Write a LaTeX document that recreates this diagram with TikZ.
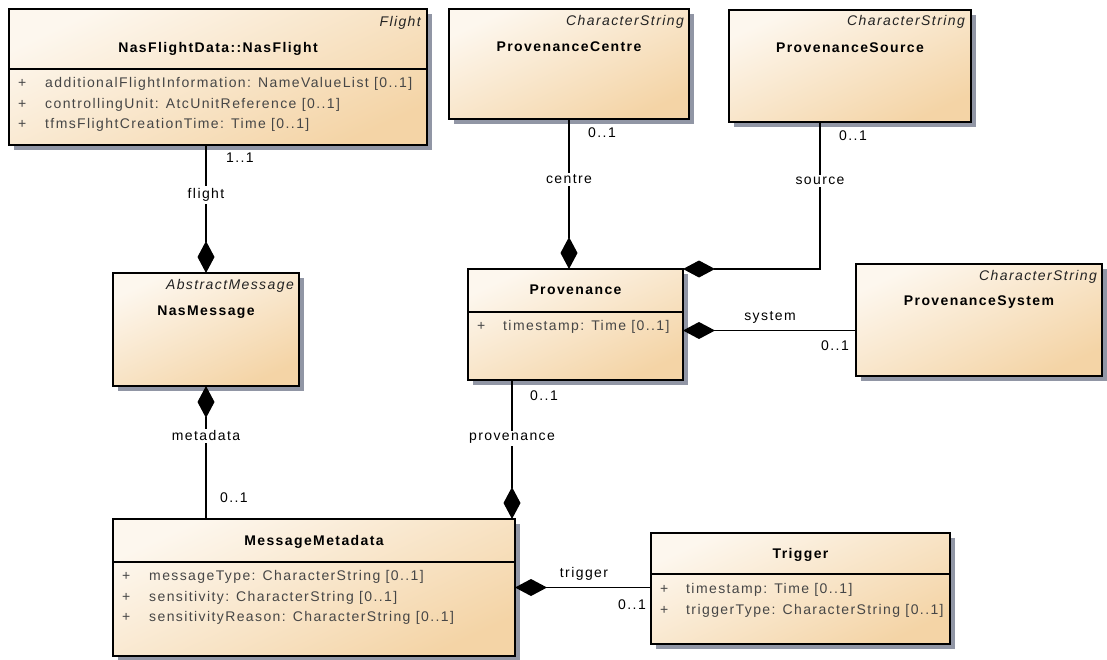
\documentclass[tikz,border=0pt]{standalone}
\usepackage{fontspec}
\setmainfont{Liberation Sans}[LetterSpace=10]
\usetikzlibrary{shadows,arrows.meta,calc}
\definecolor{umlLight}{RGB}{253,247,238}
\definecolor{umlDark}{RGB}{244,212,166}
\definecolor{shadowgray}{RGB}{145,150,165}
\definecolor{attrgray}{RGB}{70,70,70}
\definecolor{stereogray}{RGB}{35,35,35}
\begin{document}
\begin{tikzpicture}[x=1pt,y=-1pt,
  every node/.style={font=\fontsize{14}{16}\selectfont},
  classbox/.style={draw=black, line width=1.4pt, top color=umlLight, bottom color=umlDark,
    shading angle=25, drop shadow={shadow xshift=5pt, shadow yshift=-5pt, fill=shadowgray, opacity=1},
    inner sep=0pt, outer sep=0pt, anchor=north west},
  divider/.style={draw=black, line width=1.2pt},
  stereo/.style={font=\fontsize{14}{16}\selectfont\itshape, text=stereogray, inner sep=0pt, anchor=mid east},
  cname/.style={font=\fontsize{14}{16}\selectfont\bfseries, text=black, inner sep=0pt, anchor=mid},
  attr/.style={text=attrgray, inner sep=0pt, anchor=mid west},
  lbl/.style={text=black, inner sep=0pt, anchor=mid},
  lblw/.style={text=black, fill=white, inner sep=2pt, anchor=mid},
  comp/.style={draw=black, line width=1.3pt, -{Diamond[length=32pt,width=17pt,fill=black]}}
]
\useasboundingbox (0,0) rectangle (1107,660);

% ---------- classes ----------
\node[classbox, minimum width=418pt, minimum height=136pt] (nasflight) at (9,9) {};
\draw[divider] ($(nasflight.north west)+(0,60)$) -- ($(nasflight.north east)+(0,60)$);
\node[stereo] (nasflight-st) at ($(nasflight.north east)+(-6,15)$) {Flight};
\node[cname] (nasflight-n) at ($(nasflight.north)+(0,41)$) {NasFlightData::NasFlight};
\node[attr] (nasflight-p1) at ($(nasflight.north west)+(9,76)$) {+};
\node[attr] (nasflight-a1) at ($(nasflight.north west)+(36,76)$) {additionalFlightInformation: NameValueList [0..1]};
\node[attr] (nasflight-p2) at ($(nasflight.north west)+(9,97)$) {+};
\node[attr] (nasflight-a2) at ($(nasflight.north west)+(36,97)$) {controllingUnit: AtcUnitReference [0..1]};
\node[attr] (nasflight-p3) at ($(nasflight.north west)+(9,117)$) {+};
\node[attr] (nasflight-a3) at ($(nasflight.north west)+(36,117)$) {tfmsFlightCreationTime: Time [0..1]};

\node[classbox, minimum width=240pt, minimum height=110pt] (pcentre) at (449,9) {};
\node[stereo] (pcentre-st) at ($(pcentre.north east)+(-5,14)$) {CharacterString};
\node[cname] (pcentre-n) at ($(pcentre.north)+(0,40)$) {ProvenanceCentre};

\node[classbox, minimum width=242pt, minimum height=112pt] (psource) at (729,10) {};
\node[stereo] (psource-st) at ($(psource.north east)+(-6,13)$) {CharacterString};
\node[cname] (psource-n) at ($(psource.north)+(0,40)$) {ProvenanceSource};

\node[classbox, minimum width=186pt, minimum height=113pt] (nasmsg) at (113,273) {};
\node[stereo] (nasmsg-st) at ($(nasmsg.north east)+(-5,14)$) {AbstractMessage};
\node[cname] (nasmsg-n) at ($(nasmsg.north)+(0,40)$) {NasMessage};

\node[classbox, minimum width=215pt, minimum height=111pt] (prov) at (468,269) {};
\draw[divider] ($(prov.north west)+(0,43)$) -- ($(prov.north east)+(0,43)$);
\node[cname] (prov-n) at ($(prov.north)+(0,23)$) {Provenance};
\node[attr] (prov-p1) at ($(prov.north west)+(9,59)$) {+};
\node[attr] (prov-a1) at ($(prov.north west)+(35,59)$) {timestamp: Time [0..1]};

\node[classbox, minimum width=246pt, minimum height=112pt] (psys) at (856,264) {};
\node[stereo] (psys-st) at ($(psys.north east)+(-5,14)$) {CharacterString};
\node[cname] (psys-n) at ($(psys.north)+(0,39)$) {ProvenanceSystem};

\node[classbox, minimum width=402pt, minimum height=137pt] (meta) at (113,519) {};
\draw[divider] ($(meta.north west)+(0,43)$) -- ($(meta.north east)+(0,43)$);
\node[cname] (meta-n) at ($(meta.north)+(0,24)$) {MessageMetadata};
\node[attr] (meta-p1) at ($(meta.north west)+(9,59)$) {+};
\node[attr] (meta-a1) at ($(meta.north west)+(36,59)$) {messageType: CharacterString [0..1]};
\node[attr] (meta-p2) at ($(meta.north west)+(9,80)$) {+};
\node[attr] (meta-a2) at ($(meta.north west)+(36,80)$) {sensitivity: CharacterString [0..1]};
\node[attr] (meta-p3) at ($(meta.north west)+(9,100)$) {+};
\node[attr] (meta-a3) at ($(meta.north west)+(36,100)$) {sensitivityReason: CharacterString [0..1]};

\node[classbox, minimum width=299pt, minimum height=111pt] (trigger) at (651,533) {};
\draw[divider] ($(trigger.north west)+(0,41)$) -- ($(trigger.north east)+(0,41)$);
\node[cname] (trigger-n) at ($(trigger.north)+(0,23)$) {Trigger};
\node[attr] (trigger-p1) at ($(trigger.north west)+(9,58)$) {+};
\node[attr] (trigger-a1) at ($(trigger.north west)+(35,58)$) {timestamp: Time [0..1]};
\node[attr] (trigger-p2) at ($(trigger.north west)+(9,79)$) {+};
\node[attr] (trigger-a2) at ($(trigger.north west)+(35,79)$) {triggerType: CharacterString [0..1]};

% ---------- connectors ----------
\draw[comp] (nasmsg.north |- nasflight.south) -- (nasmsg.north);
\draw[comp] (nasmsg.south |- meta.north) -- (nasmsg.south);
\draw[comp] (pcentre.south) -- (pcentre.south |- prov.north);
\coordinate (srcout) at ($(psource.south)+(-30,0)$);
\draw[comp] (srcout) |- (prov.north east);
\coordinate (sysend) at ($(prov.east)+(0,6)$);
\draw[comp] (sysend -| psys.west) -- (sysend);
\coordinate (provout) at ($(prov.south west)+(44,0)$);
\draw[comp] (provout) -- (provout |- meta.north);
\draw[comp] (trigger.west |- meta.east) -- (meta.east);

% ---------- labels ----------
\node[lbl] (l-11) at (240,160) {1..1};
\node[lblw] (l-flight) at (206,196) {flight};
\node[lblw] (l-metadata) at (206,438) {metadata};
\node[lbl] (l-meta01) at (234,500) {0..1};
\node[lbl] (l-centre01) at (602,135) {0..1};
\node[lblw] (l-centre) at (569,181) {centre};
\node[lbl] (l-source01) at (853,138) {0..1};
\node[lblw] (l-source) at (820,182) {source};
\node[lbl] (l-system) at (770,318) {system};
\node[lbl] (l-system01) at (835,348) {0..1};
\node[lbl] (l-prov01) at (544,398) {0..1};
\node[lblw] (l-prov) at (512,438) {provenance};
\node[lbl] (l-trigger) at (584,575) {trigger};
\node[lbl] (l-trigger01) at (632,607) {0..1};
\end{tikzpicture}
\end{document}
